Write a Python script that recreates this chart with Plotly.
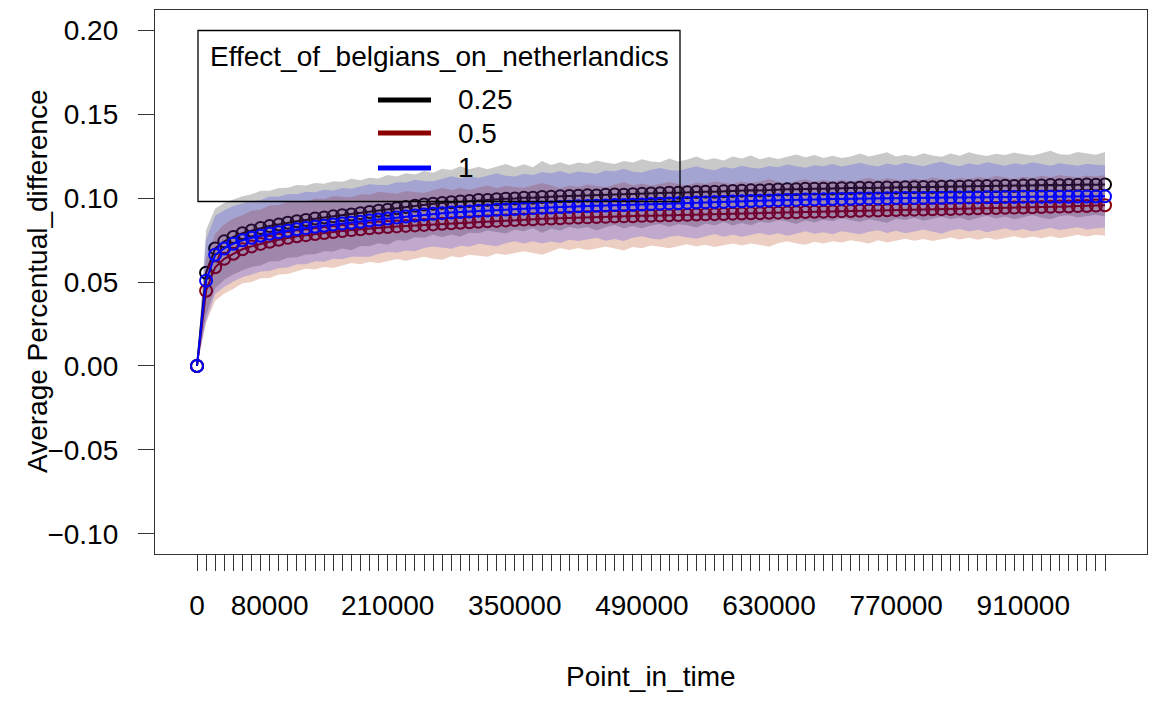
import plotly.graph_objects as go

# ---------------- data ----------------
time_points = [i * 10000 for i in range(101)]
x_tick_labels = {0: "0", 80000: "80000", 210000: "210000", 350000: "350000",
                 490000: "490000", 630000: "630000", 770000: "770000", 910000: "910000"}
y_tick_vals = [-0.10, -0.05, 0.00, 0.05, 0.10, 0.15, 0.20]
y_tick_text = ["\u22120.10", "\u22120.05", "0.00", "0.05", "0.10", "0.15", "0.20"]
series_names = ["0.25", "0.5", "1"]
legend_title = "Effect_of_belgians_on_netherlandics"

mean_025 = [0.0000, 0.0555, 0.0700, 0.0742, 0.0768, 0.0790, 0.0806, 0.0821, 0.0833, 0.0842,
            0.0853, 0.0862, 0.0869, 0.0878, 0.0884, 0.0891, 0.0898, 0.0902, 0.0910, 0.0917,
            0.0924, 0.0930, 0.0939, 0.0946, 0.0954, 0.0962, 0.0966, 0.0971, 0.0975, 0.0980,
            0.0982, 0.0988, 0.0989, 0.0993, 0.0996, 0.0997, 0.1002, 0.1002, 0.1006, 0.1007,
            0.1010, 0.1012, 0.1014, 0.1016, 0.1015, 0.1019, 0.1021, 0.1020, 0.1023, 0.1025,
            0.1027, 0.1029, 0.1032, 0.1031, 0.1034, 0.1036, 0.1038, 0.1037, 0.1040, 0.1042,
            0.1044, 0.1046, 0.1045, 0.1048, 0.1051, 0.1053, 0.1052, 0.1055, 0.1056, 0.1055,
            0.1057, 0.1059, 0.1058, 0.1061, 0.1060, 0.1062, 0.1063, 0.1062, 0.1064, 0.1065,
            0.1066, 0.1065, 0.1067, 0.1069, 0.1068, 0.1070, 0.1071, 0.1072, 0.1071, 0.1073,
            0.1072, 0.1074, 0.1076, 0.1075, 0.1077, 0.1076, 0.1078, 0.1079, 0.1080, 0.1079,
            0.1081]
mean_05 = [0.0000, 0.0448, 0.0588, 0.0638, 0.0668, 0.0695, 0.0712, 0.0727, 0.0740, 0.0752,
           0.0763, 0.0772, 0.0779, 0.0786, 0.0792, 0.0798, 0.0804, 0.0809, 0.0814, 0.0820,
           0.0825, 0.0828, 0.0831, 0.0834, 0.0837, 0.0840, 0.0843, 0.0847, 0.0850, 0.0853,
           0.0856, 0.0859, 0.0862, 0.0864, 0.0867, 0.0869, 0.0872, 0.0874, 0.0876, 0.0878,
           0.0880, 0.0882, 0.0884, 0.0885, 0.0887, 0.0888, 0.0890, 0.0891, 0.0892, 0.0894,
           0.0895, 0.0896, 0.0898, 0.0899, 0.0900, 0.0902, 0.0903, 0.0904, 0.0905, 0.0907,
           0.0908, 0.0909, 0.0910, 0.0912, 0.0913, 0.0914, 0.0915, 0.0917, 0.0918, 0.0919,
           0.0920, 0.0922, 0.0923, 0.0924, 0.0925, 0.0926, 0.0927, 0.0929, 0.0930, 0.0931,
           0.0932, 0.0933, 0.0934, 0.0935, 0.0937, 0.0938, 0.0939, 0.0940, 0.0941, 0.0942,
           0.0943, 0.0944, 0.0945, 0.0947, 0.0948, 0.0949, 0.0950, 0.0952, 0.0953, 0.0955,
           0.0957]
mean_1 = [0.0000, 0.0508, 0.0662, 0.0700, 0.0728, 0.0748, 0.0763, 0.0775, 0.0787, 0.0796,
          0.0805, 0.0814, 0.0821, 0.0829, 0.0835, 0.0842, 0.0848, 0.0853, 0.0859, 0.0866,
          0.0872, 0.0878, 0.0884, 0.0890, 0.0896, 0.0902, 0.0906, 0.0910, 0.0914, 0.0917,
          0.0920, 0.0924, 0.0926, 0.0930, 0.0932, 0.0935, 0.0937, 0.0940, 0.0942, 0.0944,
          0.0947, 0.0948, 0.0951, 0.0952, 0.0954, 0.0955, 0.0958, 0.0959, 0.0960, 0.0962,
          0.0964, 0.0966, 0.0968, 0.0969, 0.0971, 0.0973, 0.0974, 0.0976, 0.0977, 0.0979,
          0.0981, 0.0982, 0.0984, 0.0985, 0.0987, 0.0988, 0.0989, 0.0991, 0.0992, 0.0993,
          0.0994, 0.0995, 0.0996, 0.0997, 0.0998, 0.0998, 0.0999, 0.1000, 0.1000, 0.1001,
          0.1001, 0.1002, 0.1002, 0.1003, 0.1003, 0.1004, 0.1004, 0.1005, 0.1005, 0.1006,
          0.1006, 0.1007, 0.1007, 0.1007, 0.1008, 0.1008, 0.1008, 0.1009, 0.1009, 0.1009,
          0.1010]

sd_025 = [0.0000, 0.0255, 0.0238, 0.0229, 0.0224, 0.0220, 0.0216, 0.0222, 0.0211, 0.0218,
          0.0208, 0.0215, 0.0205, 0.0212, 0.0201, 0.0209, 0.0199, 0.0213, 0.0196, 0.0204,
          0.0193, 0.0208, 0.0190, 0.0201, 0.0187, 0.0199, 0.0185, 0.0204, 0.0192, 0.0210,
          0.0189, 0.0198, 0.0183, 0.0195, 0.0207, 0.0186, 0.0199, 0.0181, 0.0214, 0.0190,
          0.0203, 0.0185, 0.0197, 0.0188, 0.0209, 0.0193, 0.0182, 0.0201, 0.0189, 0.0206,
          0.0191, 0.0184, 0.0203, 0.0187, 0.0196, 0.0211, 0.0189, 0.0200, 0.0183, 0.0205,
          0.0192, 0.0208, 0.0186, 0.0197, 0.0181, 0.0193, 0.0207, 0.0188, 0.0201, 0.0184,
          0.0195, 0.0180, 0.0190, 0.0204, 0.0187, 0.0198, 0.0210, 0.0185, 0.0194, 0.0182,
          0.0201, 0.0189, 0.0179, 0.0196, 0.0184, 0.0203, 0.0188, 0.0178, 0.0193, 0.0183,
          0.0199, 0.0187, 0.0177, 0.0192, 0.0204, 0.0185, 0.0180, 0.0195, 0.0186, 0.0179,
          0.0193]
sd_05 = [0.0000, 0.0190, 0.0200, 0.0206, 0.0210, 0.0203, 0.0212, 0.0205, 0.0216, 0.0207,
         0.0215, 0.0206, 0.0199, 0.0211, 0.0202, 0.0214, 0.0204, 0.0196, 0.0209, 0.0200,
         0.0213, 0.0203, 0.0194, 0.0208, 0.0199, 0.0190, 0.0204, 0.0214, 0.0197, 0.0207,
         0.0193, 0.0203, 0.0212, 0.0195, 0.0206, 0.0197, 0.0189, 0.0202, 0.0214, 0.0198,
         0.0178, 0.0192, 0.0182, 0.0195, 0.0187, 0.0176, 0.0190, 0.0203, 0.0184, 0.0193,
         0.0178, 0.0186, 0.0197, 0.0184, 0.0175, 0.0190, 0.0181, 0.0195, 0.0186, 0.0177,
         0.0191, 0.0179, 0.0188, 0.0202, 0.0182, 0.0172, 0.0186, 0.0195, 0.0179, 0.0190,
         0.0177, 0.0187, 0.0174, 0.0184, 0.0196, 0.0178, 0.0191, 0.0181, 0.0172, 0.0186,
         0.0176, 0.0189, 0.0178, 0.0170, 0.0184, 0.0174, 0.0187, 0.0177, 0.0190, 0.0180,
         0.0171, 0.0183, 0.0174, 0.0186, 0.0176, 0.0189, 0.0179, 0.0170, 0.0182, 0.0174,
         0.0181]
sd_1 = [0.0000, 0.0245, 0.0233, 0.0228, 0.0225, 0.0220, 0.0219, 0.0213, 0.0222, 0.0212,
        0.0219, 0.0208, 0.0216, 0.0206, 0.0214, 0.0203, 0.0212, 0.0202, 0.0209, 0.0216,
        0.0205, 0.0199, 0.0210, 0.0202, 0.0213, 0.0200, 0.0194, 0.0207, 0.0216, 0.0201,
        0.0210, 0.0196, 0.0207, 0.0217, 0.0201, 0.0193, 0.0208, 0.0198, 0.0213, 0.0203,
        0.0214, 0.0196, 0.0207, 0.0200, 0.0191, 0.0209, 0.0202, 0.0215, 0.0197, 0.0190,
        0.0205, 0.0213, 0.0199, 0.0193, 0.0206, 0.0216, 0.0201, 0.0190, 0.0208, 0.0197,
        0.0211, 0.0199, 0.0192, 0.0206, 0.0196, 0.0212, 0.0201, 0.0189, 0.0204, 0.0197,
        0.0209, 0.0193, 0.0202, 0.0213, 0.0199, 0.0190, 0.0207, 0.0195, 0.0210, 0.0200,
        0.0189, 0.0204, 0.0214, 0.0197, 0.0187, 0.0203, 0.0193, 0.0208, 0.0196, 0.0186,
        0.0201, 0.0192, 0.0206, 0.0194, 0.0185, 0.0199, 0.0191, 0.0183, 0.0196, 0.0189,
        0.0186]

# ---------------- styling ----------------
FONT = "Liberation Sans, Arial, sans-serif"
FS = 28
line_colors = ["#000000", "#8B0000", "#0000FF"]
band_colors = ["rgba(0,0,0,0.21)", "rgba(180,60,15,0.25)", "rgba(0,0,255,0.18)"]

W, H = 1153, 711
L, R, T, B = 155, 1147, 10, 554  # plot-area pixel box


def px(xp):
    return (xp - L) / (R - L)


def py(yp):
    return (B - yp) / (B - T)


fig = go.Figure()
all_means = [mean_025, mean_05, mean_1]
all_sds = [sd_025, sd_05, sd_1]
for name, m, s, lc, bc in zip(series_names, all_means, all_sds, line_colors, band_colors):
    upper = [a + b for a, b in zip(m, s)]
    lower = [a - b for a, b in zip(m, s)]
    fig.add_trace(go.Scatter(
        x=time_points + time_points[::-1], y=upper + lower[::-1],
        fill="toself", fillcolor=bc, line=dict(width=0), mode="lines",
        hoverinfo="skip", showlegend=False))
    fig.add_trace(go.Scatter(
        x=time_points, y=m, mode="lines+markers", name=name,
        line=dict(color=lc, width=2),
        marker=dict(symbol="circle-open", size=12, color=lc, line=dict(width=2, color=lc)),
        showlegend=False))

tickvals = time_points
ticktext = [x_tick_labels.get(v, "") for v in time_points]

fig.update_layout(
    width=W, height=H,
    margin=dict(l=L, r=W - R, t=T, b=H - B, pad=0),
    paper_bgcolor="white", plot_bgcolor="white",
    font=dict(family=FONT, size=FS, color="black"),
    showlegend=False,
    xaxis=dict(range=[-46250, 1046250], tickmode="array", tickvals=tickvals, ticktext=ticktext,
               ticks="outside", ticklen=16, tickwidth=1.2, tickcolor="#333",
               showgrid=False, zeroline=False, showline=True, linecolor="#333", linewidth=1.3,
               mirror=True, tickangle=0, ticklabelstandoff=10,
               tickfont=dict(family=FONT, size=FS)),
    yaxis=dict(range=[-0.112, 0.212], tickmode="array", tickvals=y_tick_vals, ticktext=y_tick_text,
               ticks="outside", ticklen=16, tickwidth=1.2, tickcolor="#333",
               showgrid=False, zeroline=False, showline=True, linecolor="#333", linewidth=1.3,
               mirror=True, ticklabelstandoff=14,
               tickfont=dict(family=FONT, size=FS)),
)

# axis titles
fig.add_annotation(text="Point_in_time", xref="paper", yref="paper", x=px(651), y=py(676),
                   xanchor="center", yanchor="middle", showarrow=False, font=dict(size=FS))
fig.add_annotation(text="Average Percentual_difference", xref="paper", yref="paper",
                   x=px(37), y=0.5, xanchor="center", yanchor="middle", textangle=-90,
                   showarrow=False, font=dict(size=FS))

# legend box (drawn manually, R-style)
fig.add_shape(type="rect", xref="paper", yref="paper", x0=px(198), x1=px(680), y0=py(201.5), y1=py(30.5),
              line=dict(color="black", width=1.3), fillcolor="rgba(0,0,0,0)", layer="above")
fig.add_annotation(text=legend_title, xref="paper", yref="paper", x=px(439), y=py(56),
                   xanchor="center", yanchor="middle", showarrow=False, font=dict(size=FS))
legend_rows = [100, 133, 168]
for name, lc, yrow in zip(series_names, line_colors, legend_rows):
    fig.add_shape(type="line", xref="paper", yref="paper", x0=px(378), x1=px(431), y0=py(yrow), y1=py(yrow),
                  line=dict(color=lc, width=5), layer="above")
    fig.add_annotation(text=name, xref="paper", yref="paper", x=px(456), y=py(yrow),
                       xanchor="left", yanchor="middle", showarrow=False, font=dict(size=FS))

fig.write_html("out.html")
